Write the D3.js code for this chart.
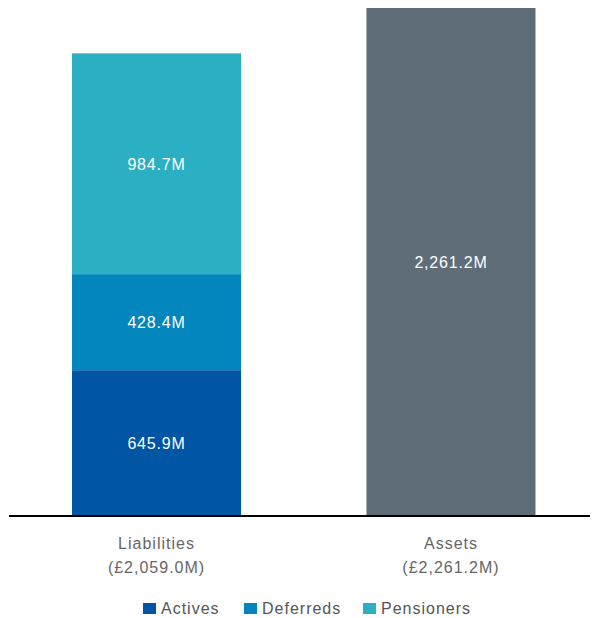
<!DOCTYPE html>
<html>
<head>
<meta charset="utf-8">
<script src="https://cdn.jsdelivr.net/npm/d3@7"></script>
<style>
  html, body { margin: 0; padding: 0; background: #fff; }
  svg { display: block; font-family: "Liberation Sans", Arial, Helvetica, sans-serif; }
</style>
</head>
<body>
<svg id="chart" width="592" height="618"></svg>
<script>
// Funding position: liabilities split by member group vs. total assets (£M)
const categories = ["Liabilities", "Assets"];
const seriesNames = ["Actives", "Deferreds", "Pensioners"];
const liabilityValues = [645.9, 428.4, 984.7];
const assetValue = 2261.2;
const seriesColors = ["#0055a5", "#0386bd", "#2bb0c3"];
const assetColor = "#5e6d78";

const svg = d3.select("#chart");
const W = 592, H = 618;

const x = d3.scaleBand()
  .domain(categories)
  .range([72, 535.5])
  .paddingInner(0.426)
  .paddingOuter(0);

const y = d3.scaleLinear()
  .domain([0, assetValue])
  .range([515, 8]);

const fmt = d3.format(",.1f");

// Stacked liabilities
const stackRows = [Object.fromEntries(seriesNames.map((k, i) => [k, liabilityValues[i]]))];
const stacked = d3.stack().keys(seriesNames)(stackRows);

const segs = svg.append("g");
stacked.forEach((layer, i) => {
  const d = layer[0];
  segs.append("rect")
    .attr("x", x("Liabilities"))
    .attr("width", x.bandwidth())
    .attr("y", y(d[1]))
    .attr("height", y(d[0]) - y(d[1]))
    .attr("fill", seriesColors[i]);
  segs.append("text")
    .attr("x", x("Liabilities") + x.bandwidth() / 2)
    .attr("y", (y(d[0]) + y(d[1])) / 2 + 6)
    .attr("text-anchor", "middle")
    .attr("fill", "#fff")
    .attr("font-size", 16)
    .attr("letter-spacing", 0.8)
    .text(fmt(liabilityValues[i]) + "M");
});

// Assets bar
svg.append("rect")
  .attr("x", x("Assets"))
  .attr("width", x.bandwidth())
  .attr("y", y(assetValue))
  .attr("height", y(0) - y(assetValue))
  .attr("fill", assetColor);
svg.append("text")
  .attr("x", x("Assets") + x.bandwidth() / 2)
  .attr("y", (y(0) + y(assetValue)) / 2 + 6)
  .attr("text-anchor", "middle")
  .attr("fill", "#fff")
  .attr("font-size", 16)
  .attr("letter-spacing", 0.8)
  .text(fmt(assetValue) + "M");

// Baseline
svg.append("line")
  .attr("x1", 9).attr("x2", 590)
  .attr("y1", y(0) + 1).attr("y2", y(0) + 1)
  .attr("stroke", "#000")
  .attr("stroke-width", 2);

// Category labels with totals
const totals = [d3.sum(liabilityValues), assetValue];
const cat = svg.append("g").attr("fill", "#666").attr("font-size", 16).attr("letter-spacing", 1);
categories.forEach((c, i) => {
  const cx = x(c) + x.bandwidth() / 2;
  cat.append("text").attr("x", cx).attr("y", 549).attr("text-anchor", "middle").text(c);
  cat.append("text").attr("x", cx).attr("y", 573).attr("text-anchor", "middle")
    .text("(£" + fmt(totals[i]) + "M)");
});

// Legend
const legendX = [143, 244, 363];
const legend = svg.append("g").attr("font-size", 16).attr("letter-spacing", 1).attr("fill", "#555");
seriesNames.forEach((s, i) => {
  legend.append("rect")
    .attr("x", legendX[i]).attr("y", 603)
    .attr("width", 13).attr("height", 11)
    .attr("fill", seriesColors[i]);
  legend.append("text")
    .attr("x", legendX[i] + 18).attr("y", 614)
    .text(s);
});
</script>
</body>
</html>
